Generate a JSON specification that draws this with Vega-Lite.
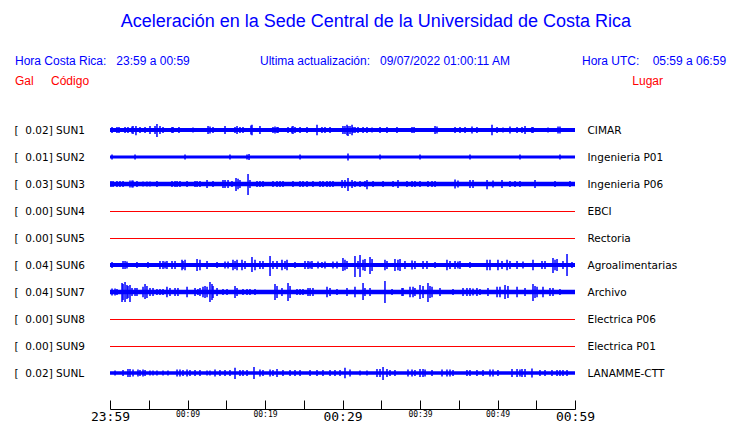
{
 "$schema": "https://vega.github.io/schema/vega-lite/v6.json",
 "width": 465, "height": 409,
 "autosize": {"type": "none"},
 "padding": {"left": 110, "top": 0, "right": 165, "bottom": 14},
 "background": "white",
 "config": {"view": {"stroke": null}, "font": "Liberation Sans"},
 "datasets": {
  "bands": [
   {"c":"SUN1","t0":0,"t1":60,"lo":9.93,"hi":10.07},
   {"c":"SUN2","t0":0,"t1":60,"lo":8.945,"hi":9.055},
   {"c":"SUN3","t0":0,"t1":60,"lo":7.92,"hi":8.08},
   {"c":"SUN6","t0":0,"t1":60,"lo":4.93,"hi":5.07},
   {"c":"SUN7","t0":0,"t1":60,"lo":3.92,"hi":4.08},
   {"c":"SUNL","t0":0,"t1":60,"lo":0.935,"hi":1.065}
  ],
  "flat": [
   {"c":"SUN4","t0":0,"t1":60,"v":7},
   {"c":"SUN5","t0":0,"t1":60,"v":6},
   {"c":"SUN8","t0":0,"t1":60,"v":3},
   {"c":"SUN9","t0":0,"t1":60,"v":2}
  ],
  "spikes": [
   {"c":"SUN1","t":0.26,"lo":9.89,"hi":10.11},{"c":"SUN1","t":0.90,"lo":9.89,"hi":10.11},{"c":"SUN1","t":1.16,"lo":9.89,"hi":10.11},{"c":"SUN1","t":1.94,"lo":9.89,"hi":10.11},{"c":"SUN1","t":2.32,"lo":9.89,"hi":10.11},{"c":"SUN1","t":2.84,"lo":9.87,"hi":10.13},{"c":"SUN1","t":2.97,"lo":9.85,"hi":10.15},{"c":"SUN1","t":3.35,"lo":9.81,"hi":10.15},{"c":"SUN1","t":3.87,"lo":9.89,"hi":10.11},{"c":"SUN1","t":4.52,"lo":9.89,"hi":10.11},{"c":"SUN1","t":5.16,"lo":9.85,"hi":10.15},{"c":"SUN1","t":5.81,"lo":9.85,"hi":10.15},{"c":"SUN1","t":6.06,"lo":9.74,"hi":10.22},{"c":"SUN1","t":6.45,"lo":9.85,"hi":10.15},{"c":"SUN1","t":6.84,"lo":9.89,"hi":10.11},{"c":"SUN1","t":8.00,"lo":9.89,"hi":10.11},{"c":"SUN1","t":8.13,"lo":9.89,"hi":10.11},{"c":"SUN1","t":8.90,"lo":9.89,"hi":10.11},{"c":"SUN1","t":10.71,"lo":9.91,"hi":10.09},{"c":"SUN1","t":12.65,"lo":9.85,"hi":10.15},{"c":"SUN1","t":12.90,"lo":9.87,"hi":10.13},{"c":"SUN1","t":13.29,"lo":9.89,"hi":10.11},{"c":"SUN1","t":14.84,"lo":9.85,"hi":10.15},{"c":"SUN1","t":16.13,"lo":9.89,"hi":10.11},{"c":"SUN1","t":16.39,"lo":9.85,"hi":10.15},{"c":"SUN1","t":16.77,"lo":9.89,"hi":10.11},{"c":"SUN1","t":17.16,"lo":9.89,"hi":10.11},{"c":"SUN1","t":18.19,"lo":9.83,"hi":10.17},{"c":"SUN1","t":18.32,"lo":9.81,"hi":10.19},{"c":"SUN1","t":19.35,"lo":9.85,"hi":10.15},{"c":"SUN1","t":21.03,"lo":9.89,"hi":10.11},{"c":"SUN1","t":21.29,"lo":9.87,"hi":10.13},{"c":"SUN1","t":21.55,"lo":9.89,"hi":10.11},{"c":"SUN1","t":21.68,"lo":9.89,"hi":10.11},{"c":"SUN1","t":22.97,"lo":9.89,"hi":10.11},{"c":"SUN1","t":23.48,"lo":9.87,"hi":10.13},{"c":"SUN1","t":23.61,"lo":9.85,"hi":10.15},{"c":"SUN1","t":23.87,"lo":9.89,"hi":10.11},{"c":"SUN1","t":24.52,"lo":9.89,"hi":10.11},{"c":"SUN1","t":25.42,"lo":9.89,"hi":10.11},{"c":"SUN1","t":26.71,"lo":9.81,"hi":10.19},{"c":"SUN1","t":27.35,"lo":9.89,"hi":10.11},{"c":"SUN1","t":27.74,"lo":9.89,"hi":10.11},{"c":"SUN1","t":28.39,"lo":9.89,"hi":10.11},{"c":"SUN1","t":30.06,"lo":9.85,"hi":10.15},{"c":"SUN1","t":30.32,"lo":9.85,"hi":10.15},{"c":"SUN1","t":30.58,"lo":9.81,"hi":10.19},{"c":"SUN1","t":30.71,"lo":9.78,"hi":10.15},{"c":"SUN1","t":30.97,"lo":9.85,"hi":10.15},{"c":"SUN1","t":31.23,"lo":9.81,"hi":10.19},{"c":"SUN1","t":31.35,"lo":9.89,"hi":10.11},{"c":"SUN1","t":31.61,"lo":9.89,"hi":10.11},{"c":"SUN1","t":32.00,"lo":9.89,"hi":10.11},{"c":"SUN1","t":32.65,"lo":9.89,"hi":10.11},{"c":"SUN1","t":33.16,"lo":9.89,"hi":10.11},{"c":"SUN1","t":33.81,"lo":9.91,"hi":10.09},{"c":"SUN1","t":34.84,"lo":9.89,"hi":10.11},{"c":"SUN1","t":35.74,"lo":9.89,"hi":10.11},{"c":"SUN1","t":37.03,"lo":9.89,"hi":10.11},{"c":"SUN1","t":38.97,"lo":9.89,"hi":10.11},{"c":"SUN1","t":39.23,"lo":9.89,"hi":10.11},{"c":"SUN1","t":41.94,"lo":9.85,"hi":10.15},{"c":"SUN1","t":42.19,"lo":9.87,"hi":10.13},{"c":"SUN1","t":44.52,"lo":9.89,"hi":10.11},{"c":"SUN1","t":45.16,"lo":9.89,"hi":10.11},{"c":"SUN1","t":45.81,"lo":9.89,"hi":10.11},{"c":"SUN1","t":46.71,"lo":9.87,"hi":10.13},{"c":"SUN1","t":47.35,"lo":9.89,"hi":10.11},{"c":"SUN1","t":49.29,"lo":9.81,"hi":10.19},{"c":"SUN1","t":49.94,"lo":9.89,"hi":10.11},{"c":"SUN1","t":50.71,"lo":9.91,"hi":10.09},{"c":"SUN1","t":51.61,"lo":9.87,"hi":10.13},{"c":"SUN1","t":52.52,"lo":9.89,"hi":10.11},{"c":"SUN1","t":53.16,"lo":9.89,"hi":10.11},{"c":"SUN1","t":53.55,"lo":9.85,"hi":10.15},{"c":"SUN1","t":54.45,"lo":9.89,"hi":10.11},{"c":"SUN1","t":54.58,"lo":9.89,"hi":10.11},{"c":"SUN1","t":56.52,"lo":9.91,"hi":10.09},{"c":"SUN1","t":57.81,"lo":9.87,"hi":10.13},{"c":"SUN1","t":58.06,"lo":9.87,"hi":10.13},
   {"c":"SUN2","t":0.26,"lo":8.91,"hi":9.09},{"c":"SUN2","t":3.23,"lo":8.91,"hi":9.09},{"c":"SUN2","t":9.68,"lo":8.91,"hi":9.09},{"c":"SUN2","t":15.48,"lo":8.91,"hi":9.09},{"c":"SUN2","t":17.68,"lo":8.91,"hi":9.09},{"c":"SUN2","t":17.94,"lo":8.89,"hi":9.11},{"c":"SUN2","t":24.52,"lo":8.91,"hi":9.09},{"c":"SUN2","t":30.71,"lo":8.87,"hi":9.13},{"c":"SUN2","t":34.84,"lo":8.91,"hi":9.09},{"c":"SUN2","t":40.00,"lo":8.91,"hi":9.09},{"c":"SUN2","t":46.45,"lo":8.91,"hi":9.09},{"c":"SUN2","t":52.90,"lo":8.91,"hi":9.09},{"c":"SUN2","t":58.06,"lo":8.91,"hi":9.09},
   {"c":"SUN3","t":0.13,"lo":7.89,"hi":8.11},{"c":"SUN3","t":0.39,"lo":7.89,"hi":8.11},{"c":"SUN3","t":0.90,"lo":7.89,"hi":8.11},{"c":"SUN3","t":1.29,"lo":7.89,"hi":8.11},{"c":"SUN3","t":1.68,"lo":7.89,"hi":8.11},{"c":"SUN3","t":2.58,"lo":7.87,"hi":8.13},{"c":"SUN3","t":2.84,"lo":7.87,"hi":8.13},{"c":"SUN3","t":2.97,"lo":7.87,"hi":8.13},{"c":"SUN3","t":3.48,"lo":7.89,"hi":8.11},{"c":"SUN3","t":4.26,"lo":7.91,"hi":8.09},{"c":"SUN3","t":4.77,"lo":7.91,"hi":8.09},{"c":"SUN3","t":5.16,"lo":7.91,"hi":8.09},{"c":"SUN3","t":6.06,"lo":7.89,"hi":8.11},{"c":"SUN3","t":8.00,"lo":7.89,"hi":8.11},{"c":"SUN3","t":8.39,"lo":7.89,"hi":8.11},{"c":"SUN3","t":8.65,"lo":7.89,"hi":8.11},{"c":"SUN3","t":9.03,"lo":7.89,"hi":8.11},{"c":"SUN3","t":9.94,"lo":7.89,"hi":8.11},{"c":"SUN3","t":10.97,"lo":7.89,"hi":8.11},{"c":"SUN3","t":11.23,"lo":7.89,"hi":8.11},{"c":"SUN3","t":11.61,"lo":7.89,"hi":8.11},{"c":"SUN3","t":12.52,"lo":7.85,"hi":8.15},{"c":"SUN3","t":13.29,"lo":7.89,"hi":8.11},{"c":"SUN3","t":14.58,"lo":7.85,"hi":8.15},{"c":"SUN3","t":14.84,"lo":7.85,"hi":8.15},{"c":"SUN3","t":15.23,"lo":7.85,"hi":8.15},{"c":"SUN3","t":15.74,"lo":7.89,"hi":8.11},{"c":"SUN3","t":16.26,"lo":7.74,"hi":8.22},{"c":"SUN3","t":16.52,"lo":7.81,"hi":8.19},{"c":"SUN3","t":16.77,"lo":7.85,"hi":8.15},{"c":"SUN3","t":17.81,"lo":7.59,"hi":8.37},{"c":"SUN3","t":18.06,"lo":7.85,"hi":8.15},{"c":"SUN3","t":18.97,"lo":7.89,"hi":8.11},{"c":"SUN3","t":19.35,"lo":7.89,"hi":8.11},{"c":"SUN3","t":19.74,"lo":7.89,"hi":8.11},{"c":"SUN3","t":21.03,"lo":7.89,"hi":8.11},{"c":"SUN3","t":21.55,"lo":7.89,"hi":8.11},{"c":"SUN3","t":21.94,"lo":7.89,"hi":8.11},{"c":"SUN3","t":22.32,"lo":7.89,"hi":8.11},{"c":"SUN3","t":23.61,"lo":7.89,"hi":8.11},{"c":"SUN3","t":24.52,"lo":7.89,"hi":8.11},{"c":"SUN3","t":24.90,"lo":7.89,"hi":8.11},{"c":"SUN3","t":25.42,"lo":7.89,"hi":8.11},{"c":"SUN3","t":26.19,"lo":7.89,"hi":8.11},{"c":"SUN3","t":27.10,"lo":7.89,"hi":8.11},{"c":"SUN3","t":27.48,"lo":7.89,"hi":8.11},{"c":"SUN3","t":28.00,"lo":7.89,"hi":8.11},{"c":"SUN3","t":28.39,"lo":7.89,"hi":8.11},{"c":"SUN3","t":28.77,"lo":7.89,"hi":8.11},{"c":"SUN3","t":29.94,"lo":7.85,"hi":8.15},{"c":"SUN3","t":30.32,"lo":7.85,"hi":8.15},{"c":"SUN3","t":30.71,"lo":7.74,"hi":8.22},{"c":"SUN3","t":31.23,"lo":7.85,"hi":8.15},{"c":"SUN3","t":31.61,"lo":7.89,"hi":8.11},{"c":"SUN3","t":32.26,"lo":7.89,"hi":8.11},{"c":"SUN3","t":32.90,"lo":7.89,"hi":8.11},{"c":"SUN3","t":33.16,"lo":7.81,"hi":8.15},{"c":"SUN3","t":33.94,"lo":7.89,"hi":8.11},{"c":"SUN3","t":35.23,"lo":7.89,"hi":8.11},{"c":"SUN3","t":36.52,"lo":7.89,"hi":8.11},{"c":"SUN3","t":37.16,"lo":7.85,"hi":8.15},{"c":"SUN3","t":38.32,"lo":7.89,"hi":8.11},{"c":"SUN3","t":38.97,"lo":7.89,"hi":8.11},{"c":"SUN3","t":39.35,"lo":7.89,"hi":8.11},{"c":"SUN3","t":40.00,"lo":7.89,"hi":8.11},{"c":"SUN3","t":41.03,"lo":7.89,"hi":8.11},{"c":"SUN3","t":41.55,"lo":7.89,"hi":8.11},{"c":"SUN3","t":41.94,"lo":7.89,"hi":8.11},{"c":"SUN3","t":44.52,"lo":7.83,"hi":8.17},{"c":"SUN3","t":44.90,"lo":7.87,"hi":8.13},{"c":"SUN3","t":46.45,"lo":7.85,"hi":8.15},{"c":"SUN3","t":46.84,"lo":7.85,"hi":8.15},{"c":"SUN3","t":48.65,"lo":7.81,"hi":8.15},{"c":"SUN3","t":49.42,"lo":7.87,"hi":8.13},{"c":"SUN3","t":50.58,"lo":7.85,"hi":8.15},{"c":"SUN3","t":51.61,"lo":7.89,"hi":8.11},{"c":"SUN3","t":52.26,"lo":7.89,"hi":8.11},{"c":"SUN3","t":52.90,"lo":7.89,"hi":8.11},{"c":"SUN3","t":54.84,"lo":7.85,"hi":8.15},{"c":"SUN3","t":57.42,"lo":7.89,"hi":8.11},{"c":"SUN3","t":59.35,"lo":7.89,"hi":8.11},
   {"c":"SUN6","t":0.26,"lo":4.89,"hi":5.11},{"c":"SUN6","t":1.68,"lo":4.85,"hi":5.15},{"c":"SUN6","t":1.94,"lo":4.85,"hi":5.15},{"c":"SUN6","t":2.19,"lo":4.87,"hi":5.13},{"c":"SUN6","t":3.48,"lo":4.89,"hi":5.11},{"c":"SUN6","t":4.90,"lo":4.89,"hi":5.11},{"c":"SUN6","t":6.45,"lo":4.85,"hi":5.15},{"c":"SUN6","t":6.84,"lo":4.85,"hi":5.15},{"c":"SUN6","t":7.10,"lo":4.87,"hi":5.13},{"c":"SUN6","t":7.35,"lo":4.85,"hi":5.15},{"c":"SUN6","t":8.00,"lo":4.85,"hi":5.15},{"c":"SUN6","t":8.39,"lo":4.85,"hi":5.15},{"c":"SUN6","t":9.29,"lo":4.81,"hi":5.19},{"c":"SUN6","t":9.42,"lo":4.85,"hi":5.15},{"c":"SUN6","t":9.68,"lo":4.81,"hi":5.19},{"c":"SUN6","t":11.23,"lo":4.78,"hi":5.22},{"c":"SUN6","t":11.61,"lo":4.81,"hi":5.19},{"c":"SUN6","t":12.52,"lo":4.85,"hi":5.15},{"c":"SUN6","t":13.81,"lo":4.89,"hi":5.11},{"c":"SUN6","t":14.84,"lo":4.87,"hi":5.13},{"c":"SUN6","t":15.23,"lo":4.87,"hi":5.13},{"c":"SUN6","t":15.87,"lo":4.81,"hi":5.19},{"c":"SUN6","t":16.13,"lo":4.85,"hi":5.15},{"c":"SUN6","t":16.39,"lo":4.81,"hi":5.19},{"c":"SUN6","t":17.03,"lo":4.81,"hi":5.19},{"c":"SUN6","t":17.42,"lo":4.85,"hi":5.15},{"c":"SUN6","t":18.32,"lo":4.74,"hi":5.30},{"c":"SUN6","t":18.71,"lo":4.81,"hi":5.19},{"c":"SUN6","t":19.35,"lo":4.85,"hi":5.15},{"c":"SUN6","t":19.74,"lo":4.85,"hi":5.15},{"c":"SUN6","t":20.65,"lo":4.59,"hi":5.33},{"c":"SUN6","t":21.03,"lo":4.85,"hi":5.15},{"c":"SUN6","t":21.55,"lo":4.85,"hi":5.15},{"c":"SUN6","t":22.19,"lo":4.81,"hi":5.19},{"c":"SUN6","t":22.58,"lo":4.85,"hi":5.15},{"c":"SUN6","t":22.84,"lo":4.81,"hi":5.19},{"c":"SUN6","t":23.87,"lo":4.89,"hi":5.11},{"c":"SUN6","t":25.16,"lo":4.85,"hi":5.15},{"c":"SUN6","t":25.55,"lo":4.85,"hi":5.15},{"c":"SUN6","t":25.81,"lo":4.87,"hi":5.13},{"c":"SUN6","t":26.06,"lo":4.85,"hi":5.15},{"c":"SUN6","t":26.84,"lo":4.87,"hi":5.13},{"c":"SUN6","t":27.35,"lo":4.89,"hi":5.11},{"c":"SUN6","t":27.74,"lo":4.87,"hi":5.13},{"c":"SUN6","t":28.77,"lo":4.87,"hi":5.13},{"c":"SUN6","t":29.29,"lo":4.87,"hi":5.13},{"c":"SUN6","t":30.06,"lo":4.78,"hi":5.26},{"c":"SUN6","t":30.32,"lo":4.81,"hi":5.19},{"c":"SUN6","t":30.58,"lo":4.85,"hi":5.15},{"c":"SUN6","t":31.61,"lo":4.56,"hi":5.33},{"c":"SUN6","t":32.00,"lo":4.85,"hi":5.15},{"c":"SUN6","t":32.26,"lo":4.56,"hi":5.37},{"c":"SUN6","t":32.65,"lo":4.81,"hi":5.19},{"c":"SUN6","t":32.90,"lo":4.78,"hi":5.22},{"c":"SUN6","t":33.55,"lo":4.67,"hi":5.30},{"c":"SUN6","t":33.81,"lo":4.78,"hi":5.22},{"c":"SUN6","t":35.48,"lo":4.81,"hi":5.19},{"c":"SUN6","t":35.74,"lo":4.85,"hi":5.15},{"c":"SUN6","t":36.77,"lo":4.78,"hi":5.22},{"c":"SUN6","t":37.16,"lo":4.81,"hi":5.19},{"c":"SUN6","t":37.42,"lo":4.78,"hi":5.22},{"c":"SUN6","t":38.06,"lo":4.85,"hi":5.15},{"c":"SUN6","t":38.97,"lo":4.83,"hi":5.17},{"c":"SUN6","t":39.35,"lo":4.85,"hi":5.15},{"c":"SUN6","t":40.39,"lo":4.85,"hi":5.15},{"c":"SUN6","t":40.90,"lo":4.85,"hi":5.15},{"c":"SUN6","t":41.94,"lo":4.89,"hi":5.11},{"c":"SUN6","t":43.48,"lo":4.81,"hi":5.19},{"c":"SUN6","t":43.87,"lo":4.85,"hi":5.15},{"c":"SUN6","t":44.52,"lo":4.85,"hi":5.15},{"c":"SUN6","t":44.90,"lo":4.87,"hi":5.13},{"c":"SUN6","t":45.16,"lo":4.85,"hi":5.15},{"c":"SUN6","t":46.45,"lo":4.89,"hi":5.11},{"c":"SUN6","t":48.65,"lo":4.81,"hi":5.19},{"c":"SUN6","t":49.03,"lo":4.81,"hi":5.19},{"c":"SUN6","t":50.06,"lo":4.81,"hi":5.19},{"c":"SUN6","t":50.58,"lo":4.85,"hi":5.15},{"c":"SUN6","t":51.23,"lo":4.81,"hi":5.19},{"c":"SUN6","t":51.61,"lo":4.85,"hi":5.15},{"c":"SUN6","t":52.52,"lo":4.85,"hi":5.15},{"c":"SUN6","t":53.29,"lo":4.87,"hi":5.13},{"c":"SUN6","t":54.58,"lo":4.81,"hi":5.19},{"c":"SUN6","t":55.74,"lo":4.85,"hi":5.15},{"c":"SUN6","t":56.13,"lo":4.85,"hi":5.15},{"c":"SUN6","t":57.16,"lo":4.70,"hi":5.26},{"c":"SUN6","t":57.42,"lo":4.81,"hi":5.19},{"c":"SUN6","t":57.68,"lo":4.78,"hi":5.22},{"c":"SUN6","t":58.45,"lo":4.85,"hi":5.15},{"c":"SUN6","t":58.97,"lo":4.59,"hi":5.41},{"c":"SUN6","t":59.61,"lo":4.89,"hi":5.11},
   {"c":"SUN7","t":0.26,"lo":3.87,"hi":4.13},{"c":"SUN7","t":0.65,"lo":3.87,"hi":4.13},{"c":"SUN7","t":0.90,"lo":3.89,"hi":4.11},{"c":"SUN7","t":1.55,"lo":3.63,"hi":4.33},{"c":"SUN7","t":1.68,"lo":3.70,"hi":4.30},{"c":"SUN7","t":1.94,"lo":3.63,"hi":4.37},{"c":"SUN7","t":2.19,"lo":3.74,"hi":4.26},{"c":"SUN7","t":2.32,"lo":3.78,"hi":4.22},{"c":"SUN7","t":2.58,"lo":3.63,"hi":4.26},{"c":"SUN7","t":2.84,"lo":3.85,"hi":4.15},{"c":"SUN7","t":3.23,"lo":3.85,"hi":4.15},{"c":"SUN7","t":3.48,"lo":3.85,"hi":4.15},{"c":"SUN7","t":4.26,"lo":3.81,"hi":4.19},{"c":"SUN7","t":4.52,"lo":3.74,"hi":4.30},{"c":"SUN7","t":4.77,"lo":3.78,"hi":4.22},{"c":"SUN7","t":5.16,"lo":3.85,"hi":4.15},{"c":"SUN7","t":5.55,"lo":3.85,"hi":4.15},{"c":"SUN7","t":6.06,"lo":3.89,"hi":4.11},{"c":"SUN7","t":6.45,"lo":3.89,"hi":4.11},{"c":"SUN7","t":6.84,"lo":3.89,"hi":4.11},{"c":"SUN7","t":7.35,"lo":3.81,"hi":4.19},{"c":"SUN7","t":7.74,"lo":3.85,"hi":4.15},{"c":"SUN7","t":8.39,"lo":3.85,"hi":4.15},{"c":"SUN7","t":8.77,"lo":3.85,"hi":4.15},{"c":"SUN7","t":9.94,"lo":3.81,"hi":4.19},{"c":"SUN7","t":10.97,"lo":3.85,"hi":4.15},{"c":"SUN7","t":11.35,"lo":3.89,"hi":4.11},{"c":"SUN7","t":11.61,"lo":3.85,"hi":4.15},{"c":"SUN7","t":12.00,"lo":3.81,"hi":4.19},{"c":"SUN7","t":12.26,"lo":3.78,"hi":4.22},{"c":"SUN7","t":12.52,"lo":3.81,"hi":4.19},{"c":"SUN7","t":12.90,"lo":3.63,"hi":4.37},{"c":"SUN7","t":13.16,"lo":3.70,"hi":4.30},{"c":"SUN7","t":13.29,"lo":3.78,"hi":4.22},{"c":"SUN7","t":13.81,"lo":3.85,"hi":4.15},{"c":"SUN7","t":14.58,"lo":3.89,"hi":4.11},{"c":"SUN7","t":15.10,"lo":3.89,"hi":4.11},{"c":"SUN7","t":16.13,"lo":3.78,"hi":4.22},{"c":"SUN7","t":16.39,"lo":3.85,"hi":4.15},{"c":"SUN7","t":17.16,"lo":3.89,"hi":4.11},{"c":"SUN7","t":17.68,"lo":3.89,"hi":4.11},{"c":"SUN7","t":18.06,"lo":3.89,"hi":4.11},{"c":"SUN7","t":18.71,"lo":3.89,"hi":4.11},{"c":"SUN7","t":21.29,"lo":3.70,"hi":4.30},{"c":"SUN7","t":21.55,"lo":3.78,"hi":4.22},{"c":"SUN7","t":22.19,"lo":3.85,"hi":4.15},{"c":"SUN7","t":22.97,"lo":3.67,"hi":4.33},{"c":"SUN7","t":23.23,"lo":3.78,"hi":4.22},{"c":"SUN7","t":24.13,"lo":3.89,"hi":4.11},{"c":"SUN7","t":24.52,"lo":3.89,"hi":4.11},{"c":"SUN7","t":24.90,"lo":3.89,"hi":4.11},{"c":"SUN7","t":25.55,"lo":3.85,"hi":4.15},{"c":"SUN7","t":25.81,"lo":3.85,"hi":4.15},{"c":"SUN7","t":26.19,"lo":3.85,"hi":4.15},{"c":"SUN7","t":28.00,"lo":3.81,"hi":4.19},{"c":"SUN7","t":28.39,"lo":3.85,"hi":4.15},{"c":"SUN7","t":29.29,"lo":3.89,"hi":4.11},{"c":"SUN7","t":30.58,"lo":3.85,"hi":4.15},{"c":"SUN7","t":31.61,"lo":3.81,"hi":4.19},{"c":"SUN7","t":32.65,"lo":3.70,"hi":4.33},{"c":"SUN7","t":32.90,"lo":3.85,"hi":4.15},{"c":"SUN7","t":33.55,"lo":3.85,"hi":4.15},{"c":"SUN7","t":35.48,"lo":3.59,"hi":4.41},{"c":"SUN7","t":36.39,"lo":3.89,"hi":4.11},{"c":"SUN7","t":37.68,"lo":3.85,"hi":4.15},{"c":"SUN7","t":37.81,"lo":3.85,"hi":4.15},{"c":"SUN7","t":38.71,"lo":3.81,"hi":4.19},{"c":"SUN7","t":39.10,"lo":3.81,"hi":4.19},{"c":"SUN7","t":39.35,"lo":3.85,"hi":4.15},{"c":"SUN7","t":40.00,"lo":3.74,"hi":4.26},{"c":"SUN7","t":40.39,"lo":3.78,"hi":4.22},{"c":"SUN7","t":41.03,"lo":3.63,"hi":4.33},{"c":"SUN7","t":41.29,"lo":3.78,"hi":4.22},{"c":"SUN7","t":41.55,"lo":3.81,"hi":4.19},{"c":"SUN7","t":42.58,"lo":3.85,"hi":4.15},{"c":"SUN7","t":44.26,"lo":3.89,"hi":4.11},{"c":"SUN7","t":45.55,"lo":3.85,"hi":4.15},{"c":"SUN7","t":46.06,"lo":3.85,"hi":4.15},{"c":"SUN7","t":46.45,"lo":3.85,"hi":4.15},{"c":"SUN7","t":46.84,"lo":3.87,"hi":4.13},{"c":"SUN7","t":47.35,"lo":3.85,"hi":4.15},{"c":"SUN7","t":47.74,"lo":3.89,"hi":4.11},{"c":"SUN7","t":48.77,"lo":3.85,"hi":4.15},{"c":"SUN7","t":49.94,"lo":3.81,"hi":4.19},{"c":"SUN7","t":50.32,"lo":3.81,"hi":4.19},{"c":"SUN7","t":50.97,"lo":3.74,"hi":4.26},{"c":"SUN7","t":51.35,"lo":3.78,"hi":4.22},{"c":"SUN7","t":52.52,"lo":3.81,"hi":4.19},{"c":"SUN7","t":53.55,"lo":3.85,"hi":4.15},{"c":"SUN7","t":54.58,"lo":3.67,"hi":4.30},{"c":"SUN7","t":54.84,"lo":3.78,"hi":4.22},{"c":"SUN7","t":55.10,"lo":3.81,"hi":4.19},{"c":"SUN7","t":55.87,"lo":3.81,"hi":4.19},{"c":"SUN7","t":56.77,"lo":3.85,"hi":4.15},{"c":"SUN7","t":57.16,"lo":3.85,"hi":4.15},{"c":"SUN7","t":58.06,"lo":3.89,"hi":4.11},
   {"c":"SUNL","t":0.65,"lo":0.91,"hi":1.09},{"c":"SUNL","t":1.68,"lo":0.89,"hi":1.11},{"c":"SUNL","t":2.32,"lo":0.85,"hi":1.15},{"c":"SUNL","t":2.58,"lo":0.85,"hi":1.15},{"c":"SUNL","t":2.97,"lo":0.87,"hi":1.13},{"c":"SUNL","t":3.61,"lo":0.87,"hi":1.13},{"c":"SUNL","t":3.87,"lo":0.89,"hi":1.11},{"c":"SUNL","t":4.26,"lo":0.87,"hi":1.13},{"c":"SUNL","t":4.52,"lo":0.89,"hi":1.11},{"c":"SUNL","t":5.16,"lo":0.91,"hi":1.09},{"c":"SUNL","t":5.55,"lo":0.91,"hi":1.09},{"c":"SUNL","t":6.06,"lo":0.91,"hi":1.09},{"c":"SUNL","t":6.84,"lo":0.91,"hi":1.09},{"c":"SUNL","t":7.48,"lo":0.91,"hi":1.09},{"c":"SUNL","t":8.65,"lo":0.87,"hi":1.13},{"c":"SUNL","t":9.03,"lo":0.87,"hi":1.13},{"c":"SUNL","t":9.42,"lo":0.89,"hi":1.11},{"c":"SUNL","t":9.94,"lo":0.87,"hi":1.13},{"c":"SUNL","t":10.32,"lo":0.89,"hi":1.11},{"c":"SUNL","t":10.97,"lo":0.89,"hi":1.11},{"c":"SUNL","t":11.61,"lo":0.89,"hi":1.11},{"c":"SUNL","t":12.52,"lo":0.91,"hi":1.09},{"c":"SUNL","t":12.90,"lo":0.91,"hi":1.09},{"c":"SUNL","t":13.55,"lo":0.87,"hi":1.13},{"c":"SUNL","t":14.19,"lo":0.89,"hi":1.11},{"c":"SUNL","t":14.84,"lo":0.89,"hi":1.11},{"c":"SUNL","t":15.48,"lo":0.89,"hi":1.11},{"c":"SUNL","t":16.13,"lo":0.78,"hi":1.19},{"c":"SUNL","t":16.77,"lo":0.89,"hi":1.11},{"c":"SUNL","t":17.16,"lo":0.89,"hi":1.11},{"c":"SUNL","t":17.68,"lo":0.89,"hi":1.11},{"c":"SUNL","t":18.58,"lo":0.78,"hi":1.22},{"c":"SUNL","t":19.35,"lo":0.87,"hi":1.13},{"c":"SUNL","t":19.74,"lo":0.89,"hi":1.11},{"c":"SUNL","t":20.65,"lo":0.87,"hi":1.13},{"c":"SUNL","t":21.03,"lo":0.89,"hi":1.11},{"c":"SUNL","t":21.55,"lo":0.85,"hi":1.15},{"c":"SUNL","t":22.32,"lo":0.89,"hi":1.11},{"c":"SUNL","t":23.23,"lo":0.89,"hi":1.11},{"c":"SUNL","t":23.87,"lo":0.89,"hi":1.11},{"c":"SUNL","t":24.52,"lo":0.89,"hi":1.11},{"c":"SUNL","t":25.81,"lo":0.89,"hi":1.11},{"c":"SUNL","t":26.71,"lo":0.89,"hi":1.11},{"c":"SUNL","t":27.48,"lo":0.89,"hi":1.11},{"c":"SUNL","t":28.39,"lo":0.89,"hi":1.11},{"c":"SUNL","t":29.03,"lo":0.89,"hi":1.11},{"c":"SUNL","t":29.68,"lo":0.89,"hi":1.11},{"c":"SUNL","t":30.32,"lo":0.81,"hi":1.19},{"c":"SUNL","t":30.97,"lo":0.87,"hi":1.13},{"c":"SUNL","t":32.26,"lo":0.91,"hi":1.09},{"c":"SUNL","t":33.16,"lo":0.91,"hi":1.09},{"c":"SUNL","t":34.45,"lo":0.85,"hi":1.15},{"c":"SUNL","t":34.84,"lo":0.85,"hi":1.15},{"c":"SUNL","t":35.23,"lo":0.74,"hi":1.22},{"c":"SUNL","t":35.74,"lo":0.85,"hi":1.15},{"c":"SUNL","t":36.13,"lo":0.89,"hi":1.11},{"c":"SUNL","t":36.77,"lo":0.89,"hi":1.11},{"c":"SUNL","t":38.45,"lo":0.87,"hi":1.13},{"c":"SUNL","t":38.97,"lo":0.87,"hi":1.13},{"c":"SUNL","t":39.35,"lo":0.89,"hi":1.11},{"c":"SUNL","t":40.00,"lo":0.85,"hi":1.15},{"c":"SUNL","t":40.39,"lo":0.85,"hi":1.15},{"c":"SUNL","t":40.65,"lo":0.87,"hi":1.13},{"c":"SUNL","t":41.55,"lo":0.89,"hi":1.11},{"c":"SUNL","t":42.84,"lo":0.87,"hi":1.13},{"c":"SUNL","t":43.48,"lo":0.87,"hi":1.13},{"c":"SUNL","t":43.87,"lo":0.87,"hi":1.13},{"c":"SUNL","t":44.26,"lo":0.89,"hi":1.11},{"c":"SUNL","t":46.06,"lo":0.89,"hi":1.11},{"c":"SUNL","t":46.45,"lo":0.89,"hi":1.11},{"c":"SUNL","t":47.35,"lo":0.89,"hi":1.11},{"c":"SUNL","t":48.13,"lo":0.89,"hi":1.11},{"c":"SUNL","t":49.03,"lo":0.87,"hi":1.13},{"c":"SUNL","t":49.42,"lo":0.87,"hi":1.13},{"c":"SUNL","t":50.06,"lo":0.89,"hi":1.11},{"c":"SUNL","t":51.87,"lo":0.85,"hi":1.15},{"c":"SUNL","t":52.52,"lo":0.85,"hi":1.15},{"c":"SUNL","t":52.90,"lo":0.87,"hi":1.13},{"c":"SUNL","t":53.16,"lo":0.85,"hi":1.15},{"c":"SUNL","t":53.55,"lo":0.85,"hi":1.15},{"c":"SUNL","t":54.45,"lo":0.83,"hi":1.17},{"c":"SUNL","t":55.48,"lo":0.89,"hi":1.11},{"c":"SUNL","t":56.13,"lo":0.89,"hi":1.11},{"c":"SUNL","t":57.03,"lo":0.89,"hi":1.11},{"c":"SUNL","t":57.68,"lo":0.89,"hi":1.11},{"c":"SUNL","t":58.06,"lo":0.89,"hi":1.11},{"c":"SUNL","t":58.45,"lo":0.89,"hi":1.11},{"c":"SUNL","t":58.97,"lo":0.89,"hi":1.11}
  ],
  "header": [
   {"role":"title","text":"Aceleración en la Sede Central de la Universidad de Costa Rica","t":34.3,"y":14.0},
   {"role":"info","text":"Hora Costa Rica:\u00a0\u00a0\u00a023:59 a 00:59","t":-12.26,"y":12.56},
   {"role":"info","text":"Ultima actualización:\u00a0\u00a0\u00a009/07/2022 01:00:11 AM","t":19.35,"y":12.56},
   {"role":"info","text":"Hora UTC:\u00a0\u00a0\u00a0\u00a005:59 a 06:59","t":60.9,"y":12.56},
   {"role":"col","text":"Gal","t":-12.26,"y":11.81},
   {"role":"col","text":"Código","t":-7.61,"y":11.81},
   {"role":"col","text":"Lugar","t":67.4,"y":11.81}
  ]
 },
 "layer": [
  {
   "data": {"name": "bands"},
   "mark": {"type": "rect", "color": "#0000ff"},
   "encoding": {
    "x": {"field": "t0", "type": "quantitative", "scale": {"domain": [0, 60], "nice": false, "zero": false},
     "axis": {"orient": "bottom", "values": [0,5,10,15,20,25,30,35,40,45,50,55,60], "title": null, "grid": false,
      "domain": true, "ticks": true, "labels": true,
      "domainColor": "black", "domainWidth": 1, "tickColor": "black", "tickWidth": 1, "tickSize": -9, "labelPadding": 10,
      "labelExpr": "datum.value % 10 ? '' : (datum.value == 0 ? '23:59' : '00:' + ((datum.value - 1) < 10 ? '0' : '') + (datum.value - 1))",
      "labelFont": "DejaVu Sans Mono", "labelFontSize": {"condition": {"test": "datum.value % 30 === 0", "value": 13}, "value": 8},
      "labelColor": "black", "labelFlush": false, "labelOverlap": false, "labelBound": false, "labelBaseline": "top"}},
    "x2": {"field": "t1"},
    "y": {"field": "lo", "type": "quantitative", "scale": {"domain": [-0.3333, 14.8148], "nice": false, "zero": false},
     "axis": {"orient": "left", "values": [1,2,3,4,5,6,7,8,9,10], "title": null, "domain": false, "ticks": false, "tickSize": 0, "grid": false,
      "labelAlign": "left", "labelPadding": 96, "labelFont": "DejaVu Sans", "labelFontSize": 10.5, "labelColor": "black", "labelBaseline": "middle",
      "labelOverlap": false, "labelBound": false, "labelFlush": false,
      "labelExpr": "['', '[\u00a0\u00a00.02]\u00a0SUNL', '[\u00a0\u00a00.00]\u00a0SUN9', '[\u00a0\u00a00.00]\u00a0SUN8', '[\u00a0\u00a00.04]\u00a0SUN7', '[\u00a0\u00a00.04]\u00a0SUN6', '[\u00a0\u00a00.00]\u00a0SUN5', '[\u00a0\u00a00.00]\u00a0SUN4', '[\u00a0\u00a00.03]\u00a0SUN3', '[\u00a0\u00a00.01]\u00a0SUN2', '[\u00a0\u00a00.02]\u00a0SUN1'][datum.value]"}},
    "y2": {"field": "hi"}
   }
  },
  {
   "data": {"name": "spikes"},
   "mark": {"type": "rule", "color": "#0000ff", "strokeWidth": 1.5},
   "encoding": {
    "x": {"field": "t", "type": "quantitative", "axis": null},
    "y": {"field": "lo", "type": "quantitative", "axis": null},
    "y2": {"field": "hi"}
   }
  },
  {
   "data": {"name": "flat"},
   "mark": {"type": "rule", "color": "#ff0000", "strokeWidth": 1, "yOffset": 0.5},
   "encoding": {
    "x": {"field": "t0", "type": "quantitative", "axis": null},
    "x2": {"field": "t1"},
    "y": {"field": "v", "type": "quantitative",
     "axis": {"orient": "right", "values": [1,2,3,4,5,6,7,8,9,10], "title": null, "domain": false, "ticks": false, "tickSize": 0, "grid": false,
      "labelPadding": 12, "labelFont": "DejaVu Sans", "labelFontSize": 10.5, "labelColor": "black", "labelBaseline": "middle",
      "labelOverlap": false, "labelBound": false, "labelFlush": false,
      "labelExpr": "['', 'LANAMME-CTT', 'Electrica P01', 'Electrica P06', 'Archivo', 'Agroalimentarias', 'Rectoria', 'EBCI', 'Ingenieria P06', 'Ingenieria P01', 'CIMAR'][datum.value]"}}
   }
  },
  {
   "data": {"name": "header"},
   "transform": [{"filter": "datum.role === 'title'"}],
   "mark": {"type": "text", "align": "center", "baseline": "middle", "font": "Liberation Sans", "fontSize": 18, "color": "#0000ff"},
   "encoding": {
    "x": {"field": "t", "type": "quantitative", "axis": null},
    "y": {"field": "y", "type": "quantitative", "axis": null},
    "text": {"field": "text"}
   }
  },
  {
   "data": {"name": "header"},
   "transform": [{"filter": "datum.role === 'info'"}],
   "mark": {"type": "text", "align": "left", "baseline": "middle", "font": "Liberation Sans", "fontSize": 12, "color": "#0000ff"},
   "encoding": {
    "x": {"field": "t", "type": "quantitative", "axis": null},
    "y": {"field": "y", "type": "quantitative", "axis": null},
    "text": {"field": "text"}
   }
  },
  {
   "data": {"name": "header"},
   "transform": [{"filter": "datum.role === 'col'"}],
   "mark": {"type": "text", "align": "left", "baseline": "middle", "font": "Liberation Sans", "fontSize": 12, "color": "#ff0000"},
   "encoding": {
    "x": {"field": "t", "type": "quantitative", "axis": null},
    "y": {"field": "y", "type": "quantitative", "axis": null},
    "text": {"field": "text"}
   }
  }
 ],
 "resolve": {"axis": {"x": "independent", "y": "independent"}}
}
